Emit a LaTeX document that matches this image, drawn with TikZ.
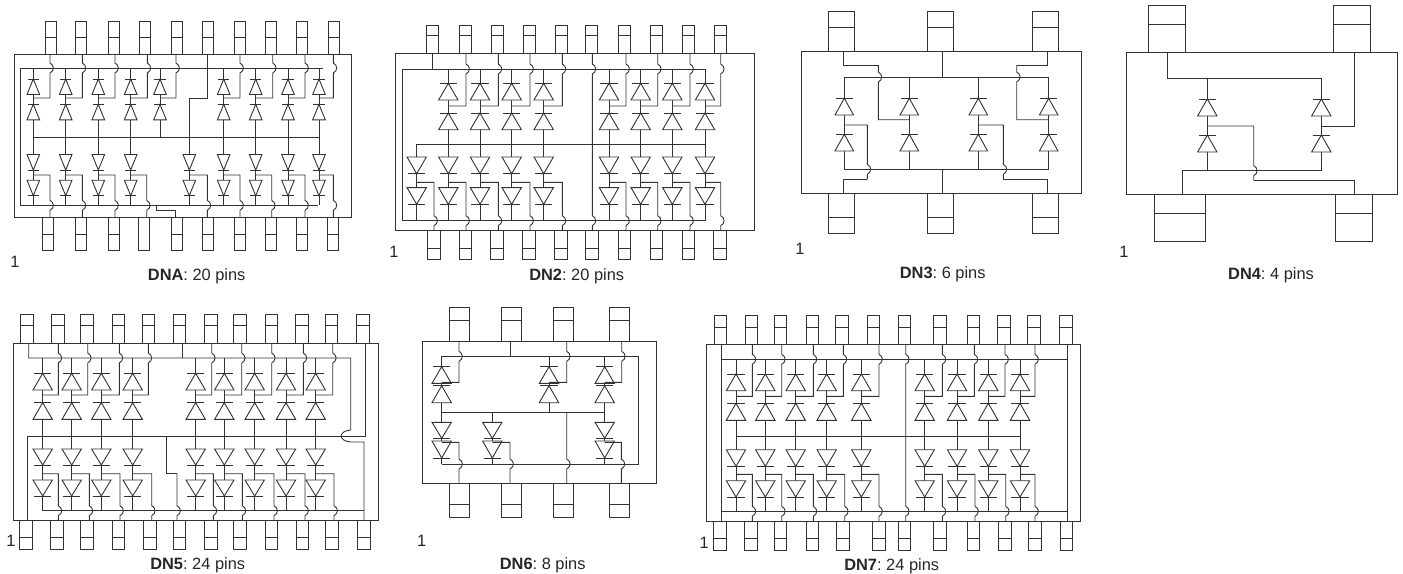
\documentclass[tikz,border=0pt]{standalone}
\usepackage{fontspec}
\setmainfont{Liberation Sans}
\tikzset{
  wire/.style={line width=0.45pt,black!80,line join=miter},
  pinone/.style={inner sep=0pt,font=\fontsize{8.2}{10}\selectfont,black!85},
  caption/.style={inner sep=0pt,font=\fontsize{8.2}{10}\selectfont\frenchspacing,black!85},
}
% pin: centre, half width, top, divider, bottom
\newcommand{\pinrect}[5]{%
  \draw[wire] ({#1-#2},#3) rectangle ({#1+#2},#5);
  \draw[wire] ({#1-#2},#4) -- ({#1+#2},#4);}
% diode: x, y of bar, height, half width
\newcommand{\diodeup}[4]{%
  \draw[wire,fill=white] (#1,#2) -- ({#1-#4},{#2+#3}) -- ({#1+#4},{#2+#3}) -- cycle;
  \draw[wire] ({#1-0.9*#4},#2) -- ({#1+0.9*#4},#2);}
\newcommand{\diodedn}[4]{%
  \draw[wire,fill=white] (#1,#2) -- ({#1-#4},{#2-#3}) -- ({#1+#4},{#2-#3}) -- cycle;
  \draw[wire] ({#1-0.9*#4},#2) -- ({#1+0.9*#4},#2);}
% tap: column, y of tap, x of riser, y of bus, y of body edge
\newcommand{\tapup}[5]{%
  \draw[wire] (#1,#2) -- (#3,#2) -- (#3,{#4+5}) .. controls ({#3+4.5},{#4+3}) and ({#3+4.5},{#4-3}) .. (#3,{#4-5}) -- (#3,#5);}
\newcommand{\tapdn}[5]{%
  \draw[wire] (#1,#2) -- (#3,#2) -- (#3,{#4-5}) .. controls ({#3+4.5},{#4-3}) and ({#3+4.5},{#4+3}) .. (#3,{#4+5}) -- (#3,#5);}
\begin{document}
\begin{tikzpicture}[x=0.5pt,y=-0.5pt]
  \useasboundingbox (0,0) rectangle (1403,573);

  % DNA
  \draw[wire] (14,54) rectangle (351,217);
  \foreach \px in {50.7,81.3,114,145,176.7,207.7,239.7,271.3,302.3,334}
    {\pinrect{\px}{5.5}{21.7}{37.5}{54}}
  \foreach \px in {48.3,81.3,114,176.7,207.7,239.7,271.3,302.3,333.3}
    {\pinrect{\px}{5.5}{217}{234}{250}}
  \draw[wire] (138.7,217) rectangle (149.3,250);
  \draw[wire] (323,68) -- (20.3,68) -- (20.3,205.3) -- (318,205.3);
  \draw[wire] (33.3,137) -- (319,137);
  \foreach \cx/\wx in {33.3/50,65.7/82.3,98.3/115,130.7/147.3,160/176,223.7/240,255.7/272.7,288/305,319/333.3} {
    \draw[wire] (\cx,68) -- (\cx,137);
    \diodeup{\cx}{79}{15.5}{6.3}
    \diodeup{\cx}{104.3}{15.5}{6.3}
    \tapup{\cx}{98}{\wx}{68}{54}
  }
  \foreach \cx/\wx in {33.3/50,65.7/82.3,98.3/115,130.7/146.7,189.3/207.3,223.7/240,255.7/271.7,288/305,319/333.3} {
    \draw[wire] (\cx,137) -- (\cx,205.3);
    \diodedn{\cx}{170}{15.5}{6.3}
    \diodedn{\cx}{195.7}{15.5}{6.3}
    \tapdn{\cx}{175}{\wx}{205.3}{217}
  }
  \draw[wire] (189.3,137) -- (189.3,98) -- (207.7,98) -- (207.7,54);
  \draw[wire] (156.7,205.3) -- (156.7,210.7) -- (175.7,210.7) -- (175.7,217);
  \node[pinone] (dnaone) at (15,262) {1};
  \node[caption] (dnacap) at (196.7,276.7) {\textbf{DNA}: 20 pins};

  % DN2
  \draw[wire] (395.7,53.3) rectangle (754,230.7);
  \foreach \px in {432.3,465.3,497,529,561,591.7,624.3,656.3,688.3,720}
    {\pinrect{\px}{6}{25}{35.7}{53.3}}
  \foreach \px in {434,465.3,497,529,561,591.7,624.3,656.3,688.3,720}
    {\pinrect{\px}{6.3}{230.7}{248.3}{259.7}}
  \draw[wire] (705,69) -- (402.7,69) -- (402.7,220.7) -- (705,220.7);
  \draw[wire] (432.3,53.3) -- (432.3,69);
  \draw[wire] (416.7,144.3) -- (705,144.3);
  \foreach \cx/\wx in {448.3/466,480/498.3,511.7/530,543.7/562.3,609/626,640.7/657.7,672.3/690,705/720.7} {
    \draw[wire] (\cx,69) -- (\cx,144.3);
    \diodeup{\cx}{83.3}{16.7}{9.7}
    \diodeup{\cx}{113}{16.7}{9.7}
    \tapup{\cx}{106}{\wx}{69}{53.3}
  }
  \foreach \cx/\wx in {416.7/434,448.3/466,480/498.3,511.7/530,543.7/562.3,609/626,640.7/657.7,672.3/690,705/720.7} {
    \draw[wire] (\cx,144.3) -- (\cx,220.7);
    \diodedn{\cx}{173.7}{16.7}{9.7}
    \diodedn{\cx}{204.3}{16.7}{9.7}
    \tapdn{\cx}{182.3}{\wx}{220.7}{230.7}
  }
  \tapup{592.3}{74}{592.3}{69}{53.3}
  \tapdn{592.3}{74}{592.3}{220.7}{230.7}
  \node[pinone] (dntwoone) at (394,251.7) {1};
  \node[caption] (dntwocap) at (576.7,276.7) {\textbf{DN2}: 20 pins};

  % DN3
  \draw[wire] (801,51) rectangle (1081,193);
  \foreach \px in {841.3,940.3,1045.3}
    {\pinrect{\px}{13}{11.3}{27.3}{51}}
  \foreach \px in {841,940.3,1045}
    {\pinrect{\px}{13}{193}{217}{233}}
  \draw[wire] (844.3,77) -- (1048.7,77);
  \draw[wire] (844.3,169.3) -- (1048.7,169.3);
  \foreach \cx in {844.3,909.3,978.3,1048.7} {
    \draw[wire] (\cx,77) -- (\cx,169.3);
    \diodeup{\cx}{98.3}{16.7}{9.3}
    \diodeup{\cx}{134.3}{16.7}{9.3}
  }
  \draw[wire] (942.7,51) -- (942.7,77);
  \draw[wire] (942.7,169.3) -- (942.7,193);
  \tapup{909.3}{119.7}{878.3}{77}{65}
  \draw[wire] (878.3,65) -- (843.3,65) -- (843.3,51);
  \tapup{1048.7}{119.7}{1016.7}{77}{65}
  \draw[wire] (1016.7,65) -- (1047.7,65) -- (1047.7,51);
  \tapdn{844.3}{125}{867.3}{169.3}{179.3}
  \draw[wire] (867.3,179.3) -- (843.3,179.3) -- (843.3,193);
  \tapdn{978.3}{125}{1003.3}{169.3}{179.3}
  \draw[wire] (1003.3,179.3) -- (1047.7,179.3) -- (1047.7,193);
  \node[pinone] (dnthreeone) at (800,249.3) {1};
  \node[caption] (dnthreecap) at (942.7,274) {\textbf{DN3}: 6 pins};

  % DN4
  \draw[wire] (1126,52.3) rectangle (1397.7,194.3);
  \draw[wire] (1148.3,5.3) rectangle (1185.3,52.3);
  \draw[wire] (1148.3,24) -- (1185.3,24);
  \draw[wire] (1333.7,5.3) rectangle (1370.7,52.3);
  \draw[wire] (1333.7,24) -- (1370.7,24);
  \draw[wire] (1154.3,194.3) rectangle (1205,241);
  \draw[wire] (1154.3,213) -- (1205,213);
  \draw[wire] (1335.7,194.3) rectangle (1372.7,241);
  \draw[wire] (1335.7,213) -- (1372.7,213);
  \draw[wire] (1167.7,52.3) -- (1167.7,78) -- (1321.3,78);
  \draw[wire] (1182.7,194.3) -- (1182.7,170.7) -- (1321.3,170.7);
  \foreach \cx in {1207.3,1321.3} {
    \draw[wire] (\cx,78) -- (\cx,170.7);
    \diodeup{\cx}{99}{17}{9.7}
    \diodeup{\cx}{135}{17}{9.7}
  }
  \tapdn{1207.3}{126}{1253.7}{170.7}{180.3}
  \draw[wire] (1253.7,180.3) -- (1354.3,180.3) -- (1354.3,194.3);
  \draw[wire] (1321.3,126) -- (1354.3,126) -- (1354.3,52.3);
  \node[pinone] (dnfourone) at (1124,251.7) {1};
  \node[caption] (dnfourcap) at (1271,275.3) {\textbf{DN4}: 4 pins};

  % DN5
  \draw[wire] (13,343.3) rectangle (378.7,520);
  \foreach \px in {26.7,57.7,86.7,118.3,148.3,179.3,210.7,239.7,271.3,301.7,331.3,362.7}
    {\pinrect{\px}{6.3}{314.3}{325.7}{343.3}}
  \foreach \px in {26,57,86.7,118.3,149.7,179.3,210.7,239.7,271.3,302.3,332,364}
    {\pinrect{\px}{6.3}{520}{537.3}{549.3}}
  \draw[wire] (28.7,343.3) -- (28.7,358) -- (350.7,358) -- (350.7,430)
    .. controls (338,431) and (338,441) .. (350.7,442) -- (364,442) -- (364,520);
  \draw[wire] (182,343.3) -- (182,358);
  \draw[wire] (365.3,343.3) -- (365.3,436) -- (27.7,436) -- (27.7,520);
  \draw[wire] (42.7,510.7) -- (364,510.7);
  \foreach \cx/\wx in {42.7/58.3,71.7/87.7,101.3/119.3,132.7/148.3,195.7/211.7,224.3/241.7,254.7/271.7,286/303.3,315.7/332.7} {
    \draw[wire] (\cx,358) -- (\cx,436);
    \diodeup{\cx}{373.3}{16.7}{9.7}
    \diodeup{\cx}{402.7}{16.7}{9.7}
    \tapup{\cx}{395}{\wx}{358}{343.3}
  }
  \foreach \cx/\wx in {42.7/58.3,71.7/89.3,101.3/120,132.7/151.7,195.7/213.3,224.3/242.3,254.7/274,286/305,315.7/334} {
    \draw[wire] (\cx,436) -- (\cx,510.7);
    \diodedn{\cx}{465}{16}{9.7}
    \diodedn{\cx}{496}{16}{9.7}
    \tapdn{\cx}{473.7}{\wx}{510.7}{520}
  }
  \draw[wire] (166.7,436) -- (166.7,473.3) -- (177,473.3);
  \tapdn{177}{473.3}{177}{510.7}{520}
  \node[pinone] (dnfiveone) at (11,541) {1};
  \node[caption] (dnfivecap) at (197.7,565.7) {\textbf{DN5}: 24 pins};

  % DN6
  \draw[wire] (422.7,341.3) rectangle (656.3,483.7);
  \foreach \px in {459.3,511,563.3,619.7} {
    \pinrect{\px}{10}{307.3}{320.7}{341.3}
    \pinrect{\px}{10}{483.7}{504}{517.3}
  }
  \draw[wire] (441.7,356.3) -- (638.7,356.3) -- (638.7,464) -- (441.7,464);
  \draw[wire] (510,341.3) -- (510,356.3);
  \draw[wire] (441.7,412) -- (604.7,412);
  \foreach \cx/\wx in {441.7/459,549/566.7,604.7/621.7} {
    \draw[wire] (\cx,356.3) -- (\cx,412);
    \diodeup{\cx}{366.7}{16.7}{9.7}
    \diodeup{\cx}{385.7}{17}{9.7}
    \tapup{\cx}{382.3}{\wx}{356.3}{341.3}
  }
  \foreach \cx/\wx in {441.7/459,492.3/510,604.7/621.3} {
    \draw[wire] (\cx,412) -- (\cx,464);
    \diodedn{\cx}{438.3}{16}{9.7}
    \diodedn{\cx}{458}{17}{9.7}
    \tapdn{\cx}{442.3}{\wx}{464}{483.7}
  }
  \tapdn{566.7}{412}{566.7}{464}{483.7}
  \node[pinone] (dnsixone) at (421.7,541) {1};
  \node[caption] (dnsixcap) at (542.7,565) {\textbf{DN6}: 8 pins};

  % DN7
  \draw[wire] (706.7,344) rectangle (1080.7,521.3);
  \foreach \px in {720.3,751.3,780.3,812.3,842,873.3,904.3,940,973.3,1004,1033.7,1065.7}
    {\pinrect{\px}{6.3}{315.7}{327}{344}}
  \foreach \px in {719.7,751,780.3,812.3,843,879,904.3,940,973.3,1004.7,1034.7,1066.3}
    {\pinrect{\px}{6.3}{521.3}{538.7}{550.7}}
  \draw[wire] (721.3,344) -- (721.3,521.3);
  \draw[wire] (1067.7,344) -- (1067.7,521.3);
  \draw[wire] (721.3,359.3) -- (1067.7,359.3);
  \draw[wire] (721.3,511.3) -- (1067.7,511.3);
  \draw[wire] (736,436.7) -- (1020,436.7);
  \foreach \cx/\wx in {736/752.3,765.3/781.7,795.7/813.3,826.7/843.3,861.3/879,924.7/942.3,957/974.3,988.3/1005,1020/1035} {
    \draw[wire] (\cx,359.3) -- (\cx,436.7);
    \diodeup{\cx}{374}{16.7}{9.7}
    \diodeup{\cx}{403.3}{17}{9.7}
    \tapup{\cx}{396.3}{\wx}{359.3}{344}
  }
  \foreach \cx/\wx in {736/752.3,765.3/781.7,795.7/813.3,826.7/844.7,861.3/879,924.7/942.3,957/975,988.3/1005.7,1020/1035} {
    \draw[wire] (\cx,436.7) -- (\cx,511.3);
    \diodedn{\cx}{466.3}{16.6}{9.7}
    \diodedn{\cx}{497}{16.3}{9.7}
    \tapdn{\cx}{474.3}{\wx}{511.3}{521.3}
  }
  \tapup{905.7}{400}{905.7}{359.3}{344}
  \tapdn{905.7}{400}{905.7}{511.3}{521.3}
  \node[pinone] (dnsevenone) at (704.3,542.7) {1};
  \node[caption] (dnsevencap) at (891.7,566.7) {\textbf{DN7}: 24 pins};
\end{tikzpicture}
\end{document}
